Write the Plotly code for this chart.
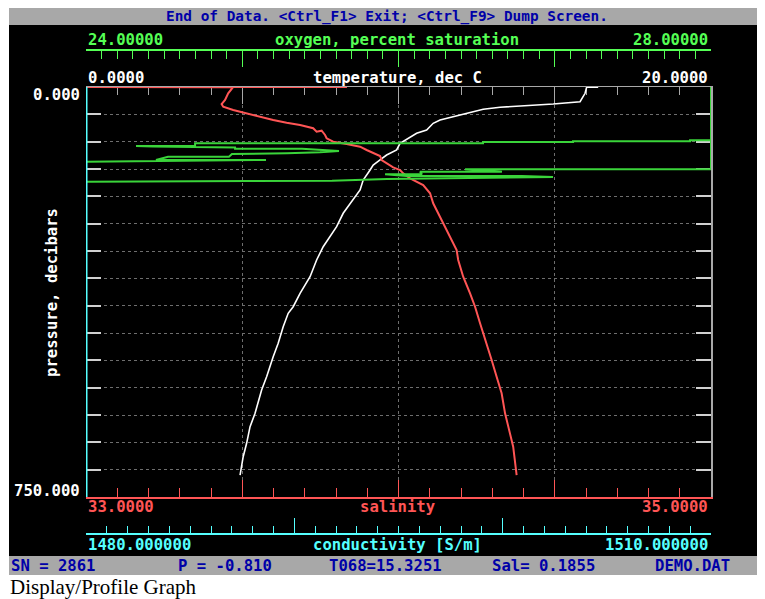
import plotly.graph_objects as go

# page body has an 8px margin: the figure starts at page pixel (8, 8)
OX, OY = 8, 8
W, H = 765 - OX, 599 - OY

# ---------------- data ----------------
# temperature profile (deg C) vs pressure (decibars)
temp_pressure = [0.5, 0.5, 11.5, 26.9, 31.1, 32.9, 37.1, 40.8, 48.1, 54.3, 60.4, 66.4,
                 78.7, 84.7, 95.7, 103.0, 115.2, 124.4, 133.5, 142.7, 151.8, 170.1,
                 188.4, 212.7, 231.0, 255.5, 273.8, 292.1, 316.5, 347.0, 377.4, 401.9,
                 414.0, 438.5, 468.8, 493.4, 529.9, 554.3, 596.9, 621.4, 651.8, 676.3, 709.8]
temperature = [16.39, 16.02, 15.97, 15.81, 14.95, 14.31, 13.25, 12.71, 12.18, 11.75, 11.33,
               11.11, 10.90, 10.58, 10.26, 10.05, 9.94, 9.62, 9.41, 9.19, 9.09, 8.87,
               8.77, 8.45, 8.23, 8.02, 7.81, 7.59, 7.38, 7.17, 6.85, 6.63,
               6.47, 6.31, 6.15, 5.99, 5.78, 5.62, 5.41, 5.25, 5.14, 5.03, 4.93]

# salinity profile vs pressure
sal_pressure = [0.0, 0.0, 0.5, 11.5, 23.8, 31.1, 36.0, 42.1, 47.0, 54.3, 60.4, 65.3, 69.5,
                75.5, 81.8, 79.9, 87.8, 93.8, 100.1, 104.3, 109.2, 115.2, 121.3, 126.2,
                133.5, 139.6, 146.9, 151.8, 157.9, 167.0, 176.2, 179.3, 194.4, 212.7,
                231.0, 249.3, 273.8, 298.2, 316.5, 347.0, 377.4, 401.9, 432.3, 468.8,
                499.4, 529.9, 560.3, 596.9, 633.5, 658.0, 709.8]
salinity = [33.835, 33.000, 33.470, 33.455, 33.445, 33.434, 33.439, 33.471, 33.503, 33.557,
            33.599, 33.642, 33.685, 33.727, 33.738, 33.754, 33.765, 33.770, 33.791, 33.834,
            33.877, 33.898, 33.919, 33.941, 33.946, 33.962, 33.983, 34.005, 34.015, 34.037,
            34.069, 34.079, 34.101, 34.111, 34.127, 34.143, 34.165, 34.186, 34.191, 34.207,
            34.229, 34.245, 34.261, 34.282, 34.298, 34.314, 34.330, 34.341, 34.357, 34.367,
            34.378]

# oxygen (percent saturation) vs pressure; off-scale readings pinned at 24 / 28
oxy_pressure = [0.0, 97.5, 97.5, 99.3, 99.3, 100.6, 100.6, 103.0, 103.0, 107.9, 107.9,
                108.8, 110.7, 112.9, 112.9, 115.2, 117.1, 119.5, 121.3, 122.6, 127.5,
                127.5, 133.5, 133.5, 136.6, 173.2, 173.2, 171.9, 171.4, 168.3, 164.6,
                162.8, 162.8, 159.7, 159.7, 154.9, 154.9, 150.5, 150.5, 97.5]
oxygen = [28.0, 28.0, 27.866, 27.866, 27.117, 27.117, 26.541, 26.541, 24.698, 24.698, 24.32,
          24.429, 24.954, 24.954, 25.382, 25.485, 25.619, 25.498, 25.286, 24.934, 24.915,
          24.525, 24.448, 25.152, 24.0, 24.0, 24.102, 25.037, 25.574, 25.926, 26.989,
          26.79, 26.054, 25.914, 26.15, 26.138, 26.662, 26.426, 28.0, 28.0]

# conductivity: off-scale low for the whole cast, pinned at the left edge
cond_pressure = [0.0, 750.0]
conductivity = [1480.0, 1480.0]

# axis ranges / labels
temp_range = [0, 20]
sal_range = [33, 35]
oxy_range = [24, 28]
cond_range = [1480, 1510]
pres_range = [750, 0]
temp_labels = ["0.0000", "temperature, dec C", "20.0000"]
oxy_labels = ["24.00000", "oxygen, percent saturation", "28.00000"]
sal_labels = ["33.0000", "salinity", "35.0000"]
cond_labels = ["1480.000000", "conductivity [S/m]", "1510.000000"]
pres_labels = ["0.000", "750.000", "pressure, decibars"]
header_text = "End of Data. &lt;Ctrl_F1&gt; Exit; &lt;Ctrl_F9&gt; Dump Screen."
status_items = ["SN = 2861", "P = -0.810", "T068=15.3251", "Sal= 0.1855", "DEMO.DAT"]
caption = "Display/Profile Graph"

# ---------------- styling ----------------
GRAY = "#a8a8a8"
BLUE = "#0000a8"
GREEN = "#55ff55"
GREEN_TR = "#3ad43a"
RED = "#ff5555"
CYAN = "#55ffff"
WHITE = "#ffffff"
GRID = "#6e6e6e"
MONO = "DejaVu Sans Mono"
FS = 15.6

L, R, T, B = 86, 711, 87, 497


def px(x):
    return (x - OX) / W


def py(y):
    return 1 - (y - OY) / H


fig = go.Figure()

fig.add_trace(go.Scatter(x=conductivity, y=cond_pressure, xaxis="x4", yaxis="y",
                         mode="lines", line=dict(color=CYAN, width=3), hoverinfo="skip"))
fig.add_trace(go.Scatter(x=oxygen, y=oxy_pressure, xaxis="x3", yaxis="y",
                         mode="lines", line=dict(color=GREEN_TR, width=2), hoverinfo="skip"))
fig.add_trace(go.Scatter(x=salinity, y=sal_pressure, xaxis="x2", yaxis="y",
                         mode="lines", line=dict(color=RED, width=2), hoverinfo="skip"))
fig.add_trace(go.Scatter(x=temperature, y=temp_pressure, xaxis="x", yaxis="y",
                         mode="lines", line=dict(color=WHITE, width=1.6), hoverinfo="skip"))
# empty trace so that the right-hand pressure axis is drawn
fig.add_trace(go.Scatter(x=[None], y=[None], xaxis="x", yaxis="y2", hoverinfo="skip"))

dom_x = [px(L), px(R)]
dom_y = [py(B), py(T)]

common = dict(showticklabels=False, zeroline=False, fixedrange=True, layer="below traces")


def minor(dt, t0, ln, col):
    return dict(ticks="inside", dtick=dt, tick0=t0, ticklen=ln, tickcolor=col, tickwidth=1,
                showgrid=False)


fig.update_layout(
    width=W, height=H, margin=dict(l=0, r=0, t=0, b=0),
    paper_bgcolor="white", plot_bgcolor="black", showlegend=False,
    xaxis=dict(domain=dom_x, range=temp_range, side="top", anchor="y",
               showline=True, linecolor=GRAY, linewidth=1,
               ticks="inside", dtick=5, tick0=0, ticklen=17, tickcolor=GRAY, tickwidth=1,
               minor=minor(1, 0, 8, GRAY),
               showgrid=True, gridcolor=GRID, griddash="dot", gridwidth=1, **common),
    xaxis2=dict(range=sal_range, overlaying="x", side="bottom", anchor="y",
                showline=True, linecolor=RED, linewidth=1.5,
                ticks="inside", dtick=0.5, tick0=33, ticklen=17, tickcolor=RED, tickwidth=1,
                minor=minor(0.1, 33, 9, RED),
                showgrid=False, **common),
    xaxis3=dict(range=oxy_range, overlaying="x", side="top", anchor="free",
                position=py(50),
                showline=True, linecolor=GREEN, linewidth=1.5,
                ticks="inside", dtick=1, tick0=24, ticklen=16, tickcolor=GREEN, tickwidth=1,
                minor=minor(0.1, 24, 8, GREEN),
                showgrid=False, **common),
    xaxis4=dict(range=cond_range, overlaying="x", side="bottom", anchor="free",
                position=py(533.5),
                showline=True, linecolor=CYAN, linewidth=1.5,
                ticks="inside", dtick=10, tick0=1480, ticklen=15, tickcolor=CYAN, tickwidth=1,
                minor=minor(1, 1480, 7, CYAN),
                showgrid=False, **common),
    yaxis=dict(domain=dom_y, range=pres_range, anchor="x", side="left",
               showline=False,
               ticks="inside", dtick=50, tick0=0, ticklen=15, tickcolor="#d0d0d0", tickwidth=1.5,
               showgrid=True, gridcolor=GRID, griddash="dot", gridwidth=1, **common),
    yaxis2=dict(range=pres_range, overlaying="y", side="right", anchor="x",
                showline=True, linecolor=GRAY, linewidth=1.5,
                ticks="inside", dtick=50, tick0=0, ticklen=15, tickcolor="#d0d0d0",
                tickwidth=1.5, showgrid=False, **common),
)

shapes = [
    dict(type="rect", xref="paper", yref="paper", x0=px(9), x1=1, y0=py(556), y1=py(25),
         fillcolor="black", line=dict(width=0), layer="below"),
    dict(type="rect", xref="paper", yref="paper", x0=px(9), x1=1, y0=py(25), y1=1,
         fillcolor=GRAY, line=dict(width=0), layer="below"),
    dict(type="rect", xref="paper", yref="paper", x0=px(9), x1=1, y0=py(575), y1=py(556),
         fillcolor=GRAY, line=dict(width=0), layer="below"),
]
fig.update_layout(shapes=shapes)

ann = []


def add_text(text, x, y, color, xanchor="left", size=FS, family=MONO, angle=0, bold=True):
    if bold:
        text = "<b>" + text + "</b>"
    ann.append(dict(text=text, x=px(x), y=py(y), xref="paper", yref="paper",
                    xanchor=xanchor, yanchor="middle", showarrow=False, textangle=angle,
                    font=dict(family=family, size=size, color=color)))


add_text(header_text, 387, 16.3, BLUE, "center", size=14.4)

add_text(oxy_labels[0], L, 40, GREEN, "left")
add_text(oxy_labels[1], 397, 40, GREEN, "center")
add_text(oxy_labels[2], R - 1, 40, GREEN, "right")

add_text(temp_labels[0], L, 78, WHITE, "left")
add_text(temp_labels[1], 397, 78, WHITE, "center")
add_text(temp_labels[2], R - 1, 78, WHITE, "right")

add_text(pres_labels[0], 82, 95, WHITE, "right")
add_text(pres_labels[1], 82, 491, WHITE, "right")
add_text(pres_labels[2], 52, 293, WHITE, "center", angle=-90)

add_text(sal_labels[0], L, 507, RED, "left")
add_text(sal_labels[1], 397, 507, RED, "center")
add_text(sal_labels[2], R - 1, 507, RED, "right")

add_text(cond_labels[0], L, 545, CYAN, "left")
add_text(cond_labels[1], 397, 545, CYAN, "center")
add_text(cond_labels[2], R - 1, 545, CYAN, "right")

for txt, x in zip(status_items, [9, 176, 327, 490, 653]):
    add_text(txt, x, 565.5, BLUE, "left")

add_text(caption, 8, 587, "black", "left", size=21, family="Liberation Serif", bold=False)

fig.update_layout(annotations=ann)

fig.write_html("out.html")
